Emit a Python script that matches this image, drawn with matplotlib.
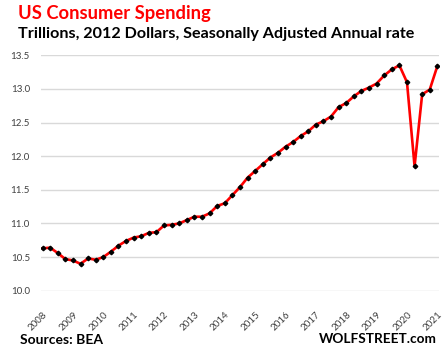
import matplotlib
matplotlib.use('agg')
from matplotlib import pyplot as plt

# real PCE, trillions of 2012 dollars, quarterly 2008Q1 - 2021Q1
values = [10.63, 10.64, 10.56, 10.47,
          10.45, 10.40, 10.48, 10.46,
          10.50, 10.58, 10.67, 10.74,
          10.79, 10.81, 10.86, 10.87,
          10.97, 10.98, 11.00, 11.05,
          11.10, 11.10, 11.15, 11.26,
          11.30, 11.42, 11.54, 11.68,
          11.78, 11.88, 11.98, 12.05,
          12.14, 12.21, 12.30, 12.37,
          12.47, 12.52, 12.59, 12.73,
          12.79, 12.89, 12.97, 13.02,
          13.08, 13.20, 13.29, 13.35,
          13.10, 11.85, 12.92, 12.99,
          13.34]
years = list(range(2008, 2022))
y_ticks = [10.0, 10.5, 11.0, 11.5, 12.0, 12.5, 13.0, 13.5]

FONT = 'Lato'

fig = plt.figure(figsize=(4.46, 3.5), dpi=100)
ax = fig.add_axes([0.092, 0.1694, 0.892, 0.6726])

x = list(range(len(values)))
ax.plot(x, values, color='#ff0000', lw=1.9, zorder=3)
ax.plot(x, values, ls='none', marker='D', ms=2.3, color='black', zorder=4)

ax.set_ylim(10.0, 13.5)
ax.set_xlim(-0.2, len(values) - 0.8)
ax.set_yticks(y_ticks)
ax.set_yticklabels(['%.1f' % v for v in y_ticks], fontfamily=FONT, fontsize=7, color='#404040')
ax.set_xticks([4 * i for i in range(len(years))])
ax.set_xticklabels([str(yr) for yr in years], rotation=45, ha='right', rotation_mode='anchor',
                   fontfamily=FONT, fontsize=7, color='#404040')
ax.tick_params(axis='y', length=0, pad=8)
ax.tick_params(axis='x', length=0, pad=14)
ax.grid(axis='y', color='#d9d9d9', lw=1)
ax.set_axisbelow(True)
for s in ax.spines.values():
    s.set_visible(False)

fig.text(18 / 446, 1 - 13 / 350, 'US Consumer Spending', color='#ff0000', fontweight='bold',
         fontfamily=FONT, fontsize=13.2, va='center', ha='left')
fig.text(18 / 446, 1 - 34 / 350, 'Trillions, 2012 Dollars, Seasonally Adjusted Annual rate',
         color='black', fontweight='bold', fontfamily=FONT, fontsize=11.6, va='center', ha='left')
fig.text(20 / 446, 1 - 340 / 350, 'Sources: BEA', color='black', fontweight='bold',
         fontfamily=FONT, fontsize=10, va='center', ha='left')
fig.text(437 / 446, 1 - 339 / 350, 'WOLFSTREET.com', color='black', fontweight='bold',
         fontfamily=FONT, fontsize=9.8, va='center', ha='right')

fig.savefig('out.png', dpi=100)
